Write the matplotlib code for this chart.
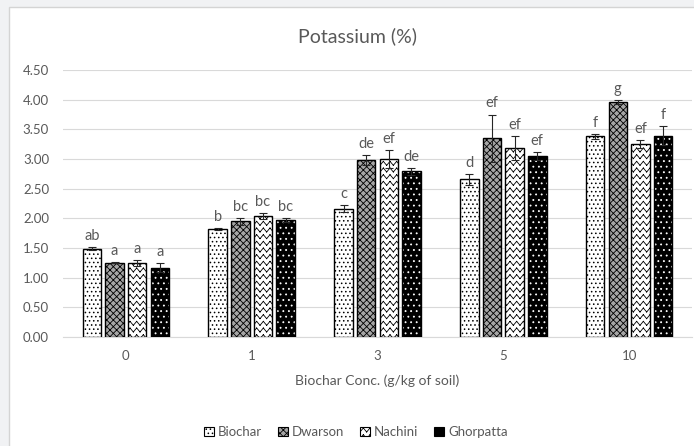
import warnings
import numpy as np
import matplotlib
matplotlib.use("Agg")
import matplotlib.pyplot as plt
from matplotlib import hatch as mhatch
from matplotlib.path import Path
from matplotlib.patches import Rectangle, Patch

warnings.simplefilter("ignore")

# ---- data -------------------------------------------------------------
concentrations = ["0", "1", "3", "5", "10"]
series_names = ["Biochar", "Dwarson", "Nachini", "Ghorpatta"]

biochar = [1.49, 1.82, 2.16, 2.66, 3.38]
dwarson = [1.25, 1.95, 2.98, 3.35, 3.96]
nachini = [1.24, 2.04, 3.00, 3.18, 3.25]
ghorpatta = [1.17, 1.97, 2.79, 3.05, 3.39]

biochar_err = [0.03, 0.01, 0.06, 0.09, 0.04]
dwarson_err = [0.01, 0.06, 0.08, 0.40, 0.03]
nachini_err = [0.05, 0.05, 0.15, 0.20, 0.07]
ghorpatta_err = [0.08, 0.04, 0.06, 0.06, 0.16]

biochar_sig = ["ab", "b", "c", "d", "f"]
dwarson_sig = ["a", "bc", "de", "ef", "g"]
nachini_sig = ["a", "bc", "ef", "ef", "ef"]
ghorpatta_sig = ["a", "bc", "de", "ef", "f"]

y_ticks = [0.0, 0.5, 1.0, 1.5, 2.0, 2.5, 3.0, 3.5, 4.0, 4.5]


# ---- wavy hatch pattern ('z'), built from separate line segments -------
class WaveHatch(mhatch.HatchPatternBase):
    def __init__(self, hatch, density):
        self.num_rows = int(round(hatch.count("z") * density * 1.25))
        self.seg = 2 * self.num_rows
        self.num_vertices = self.num_rows * self.seg * 2 if self.num_rows else 0

    def set_vertices_and_codes(self, vertices, codes):
        xs = np.linspace(0.0, 1.0, self.seg + 1)
        amp = 0.3 / self.num_rows
        wiggle = np.where(np.arange(self.seg + 1) % 2 == 0, -amp, amp)
        m = 2 * self.seg
        for k in range(self.num_rows):
            yc = (k + 0.5) / self.num_rows
            ys = yc + wiggle
            block = vertices[k * m:(k + 1) * m]
            block[0::2, 0] = xs[:-1]
            block[0::2, 1] = ys[:-1]
            block[1::2, 0] = xs[1:]
            block[1::2, 1] = ys[1:]
            codes[k * m:(k + 1) * m:2] = Path.MOVETO
            codes[k * m + 1:(k + 1) * m:2] = Path.LINETO


mhatch._hatch_types.append(WaveHatch)

plt.rcParams["font.family"] = ["Lato", "DejaVu Sans"]
plt.rcParams["hatch.linewidth"] = 0.6

TXT = "#595959"

fig = plt.figure(figsize=(6.94, 4.46), dpi=100)
fig.patch.set_facecolor("#f1f2f4")
# white chart area with a thin border
fig.patches.append(Rectangle((9 / 694, -0.05), 1.2, 1 - 7 / 446 + 0.05,
                             transform=fig.transFigure, facecolor="white",
                             edgecolor="#d4d4d4", linewidth=1.0, zorder=-5))

ax = fig.add_axes([63 / 694, 1 - 337 / 446, 629 / 694, (337 - 70) / 446])
ax.set_facecolor("none")
ax.set_zorder(2)

x = np.arange(len(concentrations))
width = 0.147
pitch = 0.18
offsets = (np.arange(4) - 1.5) * pitch

values = [biochar, dwarson, nachini, ghorpatta]
errors = [biochar_err, dwarson_err, nachini_err, ghorpatta_err]
sigs = [biochar_sig, dwarson_sig, nachini_sig, ghorpatta_sig]

styles = [
    dict(facecolor="white", edgecolor="black", hatch="...."),
    dict(facecolor="#a6a6a6", edgecolor="black", hatch="xxxxx"),
    dict(facecolor="white", edgecolor="black", hatch="zz"),
]

for i in range(4):
    xi = x + offsets[i]
    if i < 3:
        ax.bar(xi, values[i], width, linewidth=1.0, zorder=3, **styles[i])
    else:
        # black bar with white dots, then a black outline on top
        ax.bar(xi, values[i], width, facecolor="black", edgecolor="white",
               hatch="...", linewidth=0, zorder=3)
        ax.bar(xi, values[i], width, fill=False, edgecolor="black",
               linewidth=1.0, zorder=3.5)
    ax.errorbar(xi, values[i], yerr=errors[i], fmt="none", ecolor="#262626",
                elinewidth=0.8, capsize=3, capthick=0.8, zorder=4)
    for xx, v, e, s in zip(xi, values[i], errors[i], sigs[i]):
        ax.annotate(s, (xx, v + e), xytext=(0, 3), textcoords="offset points",
                    ha="center", va="bottom", fontsize=10.5, color=TXT)

ax.set_xlim(-0.5, len(concentrations) - 0.5)
ax.set_ylim(0, 4.5)
ax.set_yticks(y_ticks)
ax.set_yticklabels([f"{t:.2f}" for t in y_ticks])
ax.set_xticks(x)
ax.set_xticklabels(concentrations)
ax.tick_params(axis="both", length=0, labelsize=9.5, labelcolor=TXT)
ax.tick_params(axis="y", pad=10)
ax.tick_params(axis="x", pad=9)
ax.grid(axis="y", color="#d9d9d9", linewidth=0.8, zorder=0)
ax.set_axisbelow(True)
for side in ["top", "right", "left"]:
    ax.spines[side].set_visible(False)
ax.spines["bottom"].set_color("#d9d9d9")
ax.spines["bottom"].set_linewidth(0.8)

ax.set_xlabel("Biochar Conc. (g/kg of soil)", fontsize=10, color=TXT, labelpad=9)

fig.text(358 / 694, 1 - 36 / 446, "Potassium (%)", ha="center", va="center",
         fontsize=14, color=TXT)

handles = [
    Patch(facecolor="white", edgecolor="black", hatch="....", linewidth=0.8),
    Patch(facecolor="#a6a6a6", edgecolor="black", hatch="xxxxx", linewidth=0.8),
    Patch(facecolor="white", edgecolor="black", hatch="zz", linewidth=0.8),
    Patch(facecolor="black", edgecolor="black", linewidth=0.8),
]
fig.legend(handles, series_names, loc="center", ncol=4,
           bbox_to_anchor=(356 / 694, 1 - 432 / 446), frameon=False,
           fontsize=9.5, labelcolor=TXT, handlelength=0.75, handleheight=0.75,
           handletextpad=0.3, columnspacing=1.2)

fig.savefig("out.png", dpi=100, facecolor=fig.get_facecolor())
